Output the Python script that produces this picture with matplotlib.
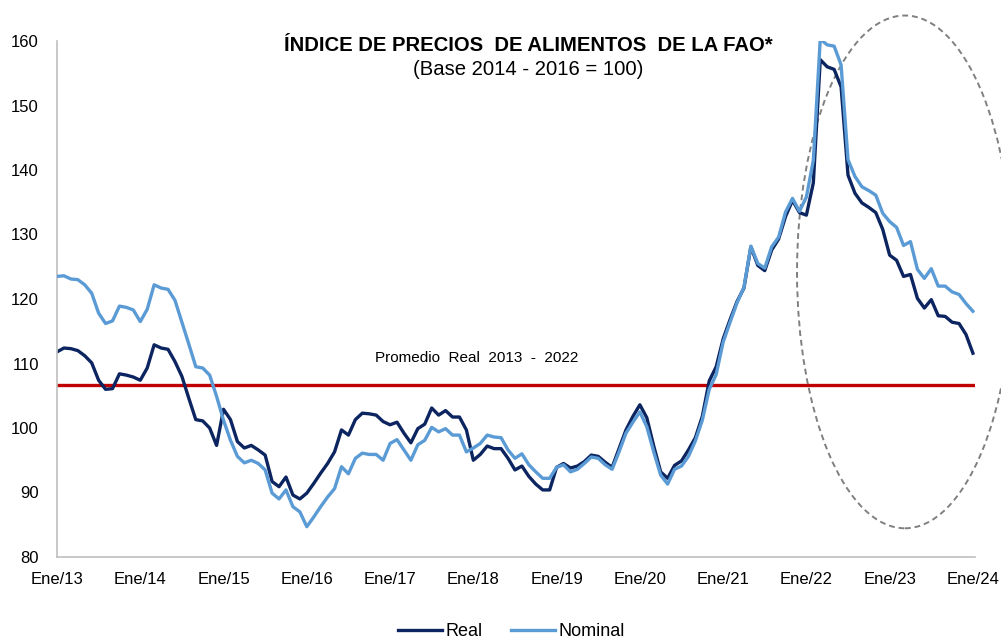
import numpy as np
import matplotlib.pyplot as plt
from matplotlib.patches import Ellipse

plt.rcParams['font.family'] = ['Liberation Sans', 'DejaVu Sans']

# Monthly index, Ene/13 .. Ene/24 (2014-2016 = 100)
real = [111.8, 112.4, 112.3, 112.0, 111.2, 110.1, 107.4, 106.0, 106.1, 108.4, 108.2, 107.9,
        107.4, 109.3, 112.9, 112.4, 112.2, 110.3, 108.0, 104.6, 101.3, 101.1, 100.0, 97.3,
        102.9, 101.3, 97.9, 96.9, 97.3, 96.6, 95.8, 91.7, 90.9, 92.4, 89.6, 89.0,
        89.9, 91.4, 93.0, 94.5, 96.3, 99.7, 98.9, 101.3, 102.3, 102.2, 102.0, 101.0,
        100.5, 100.9, 99.2, 97.7, 99.9, 100.6, 103.1, 102.0, 102.7, 101.7, 101.7, 99.7,
        95.0, 95.9, 97.2, 96.8, 96.8, 95.3, 93.5, 94.1, 92.5, 91.3, 90.4, 90.4,
        93.9, 94.5, 93.8, 94.1, 94.8, 95.8, 95.6, 94.7, 93.9, 96.8, 99.7, 101.8,
        103.6, 101.6, 97.2, 93.2, 92.2, 94.2, 94.9, 96.6, 98.5, 101.8, 107.3, 109.5,
        113.8, 116.8, 119.6, 121.7, 128.1, 125.2, 124.4, 127.6, 129.3, 132.8, 135.3, 133.4,
        133.0, 138.0, 157.1, 156.0, 155.6, 152.9, 139.2, 136.4, 134.9, 134.2, 133.4, 130.8,
        126.8, 126.0, 123.5, 123.8, 120.1, 118.6, 119.9, 117.4, 117.3, 116.4, 116.2, 114.5,
        111.6]

nominal = [123.5, 123.6, 123.1, 123.0, 122.2, 120.9, 117.8, 116.2, 116.6, 118.9, 118.7, 118.3,
           116.5, 118.4, 122.2, 121.7, 121.5, 119.8, 116.4, 113.0, 109.5, 109.3, 108.2, 104.9,
           101.2, 98.1, 95.6, 94.6, 95.0, 94.5, 93.5, 89.9, 89.0, 90.4, 87.8, 87.0,
           84.7, 86.2, 87.8, 89.3, 90.6, 94.0, 92.9, 95.3, 96.1, 95.9, 95.9, 95.0,
           97.6, 98.2, 96.6, 95.0, 97.4, 98.1, 100.1, 99.4, 99.9, 98.9, 98.9, 96.3,
           96.9, 97.6, 98.9, 98.6, 98.5, 96.6, 95.3, 96.0, 94.3, 93.2, 92.2, 92.2,
           93.9, 94.3, 93.2, 93.6, 94.5, 95.5, 95.3, 94.3, 93.6, 96.3, 99.2, 100.9,
           102.5, 100.2, 96.3, 92.7, 91.3, 93.6, 94.1, 95.6, 98.0, 101.2, 106.0, 108.3,
           113.3, 116.4, 119.4, 121.8, 128.2, 125.5, 124.8, 128.1, 129.6, 133.5, 135.6, 133.6,
           135.8, 141.5, 160.3, 159.4, 159.2, 156.3, 141.6, 139.0, 137.4, 136.8, 136.1, 133.3,
           132.0, 131.1, 128.3, 128.9, 124.6, 123.2, 124.7, 122.0, 122.0, 121.1, 120.7, 119.3,
           118.1]

promedio_real = 106.7
year_labels = ['Ene/13', 'Ene/14', 'Ene/15', 'Ene/16', 'Ene/17', 'Ene/18',
               'Ene/19', 'Ene/20', 'Ene/21', 'Ene/22', 'Ene/23', 'Ene/24']

months = np.arange(len(real))

fig = plt.figure(figsize=(10.01, 6.39), dpi=100)
ax = fig.add_axes([57 / 1001, 1 - 557 / 639, 918 / 1001, 516 / 639])

ax.axhline(promedio_real, color='#C00000', lw=2.4, zorder=1)
ax.plot(months, real, color='#0C2560', lw=2.4, label='Real', zorder=2)
ax.plot(months, nominal, color='#5B9BD5', lw=2.4, label='Nominal', zorder=3)

ax.text(45.8, 110.9, 'Promedio  Real  2013  -  2022', fontsize=11, va='center', ha='left')

# dashed ellipse highlighting the recent decline
ax.add_patch(Ellipse((122.2, 124.2), 31.1, 79.5, fill=False, ls=(0, (3, 2)),
                     ec='#808080', lw=1.4, clip_on=False))

ax.set_xlim(0, 132.3)
ax.set_ylim(80, 160)
ax.set_xticks(np.arange(0, len(real), 12))
ax.set_xticklabels(year_labels, fontsize=12)
ax.set_yticks(np.arange(80, 161, 10))
ax.tick_params(axis='y', length=0, pad=13, labelsize=12)
ax.tick_params(axis='x', length=0, pad=11)

for side in ['top', 'right']:
    ax.spines[side].set_visible(False)
for side in ['left', 'bottom']:
    ax.spines[side].set_color('#BFBFBF')
    ax.spines[side].set_linewidth(1.2)

fig.text(0.528, 0.929, 'ÍNDICE DE PRECIOS  DE ALIMENTOS  DE LA FAO*',
         fontsize=14.6, fontweight='bold', ha='center', va='center')
fig.text(0.528, 0.892, '(Base 2014 - 2016 = 100)', fontsize=14.6, ha='center', va='center')

fig.legend(loc='center', bbox_to_anchor=(0.511, 0.012), ncol=2, frameon=False,
           fontsize=13, handlelength=2.4, handletextpad=0.2, columnspacing=1.6)

fig.savefig('out.png', dpi=100)
